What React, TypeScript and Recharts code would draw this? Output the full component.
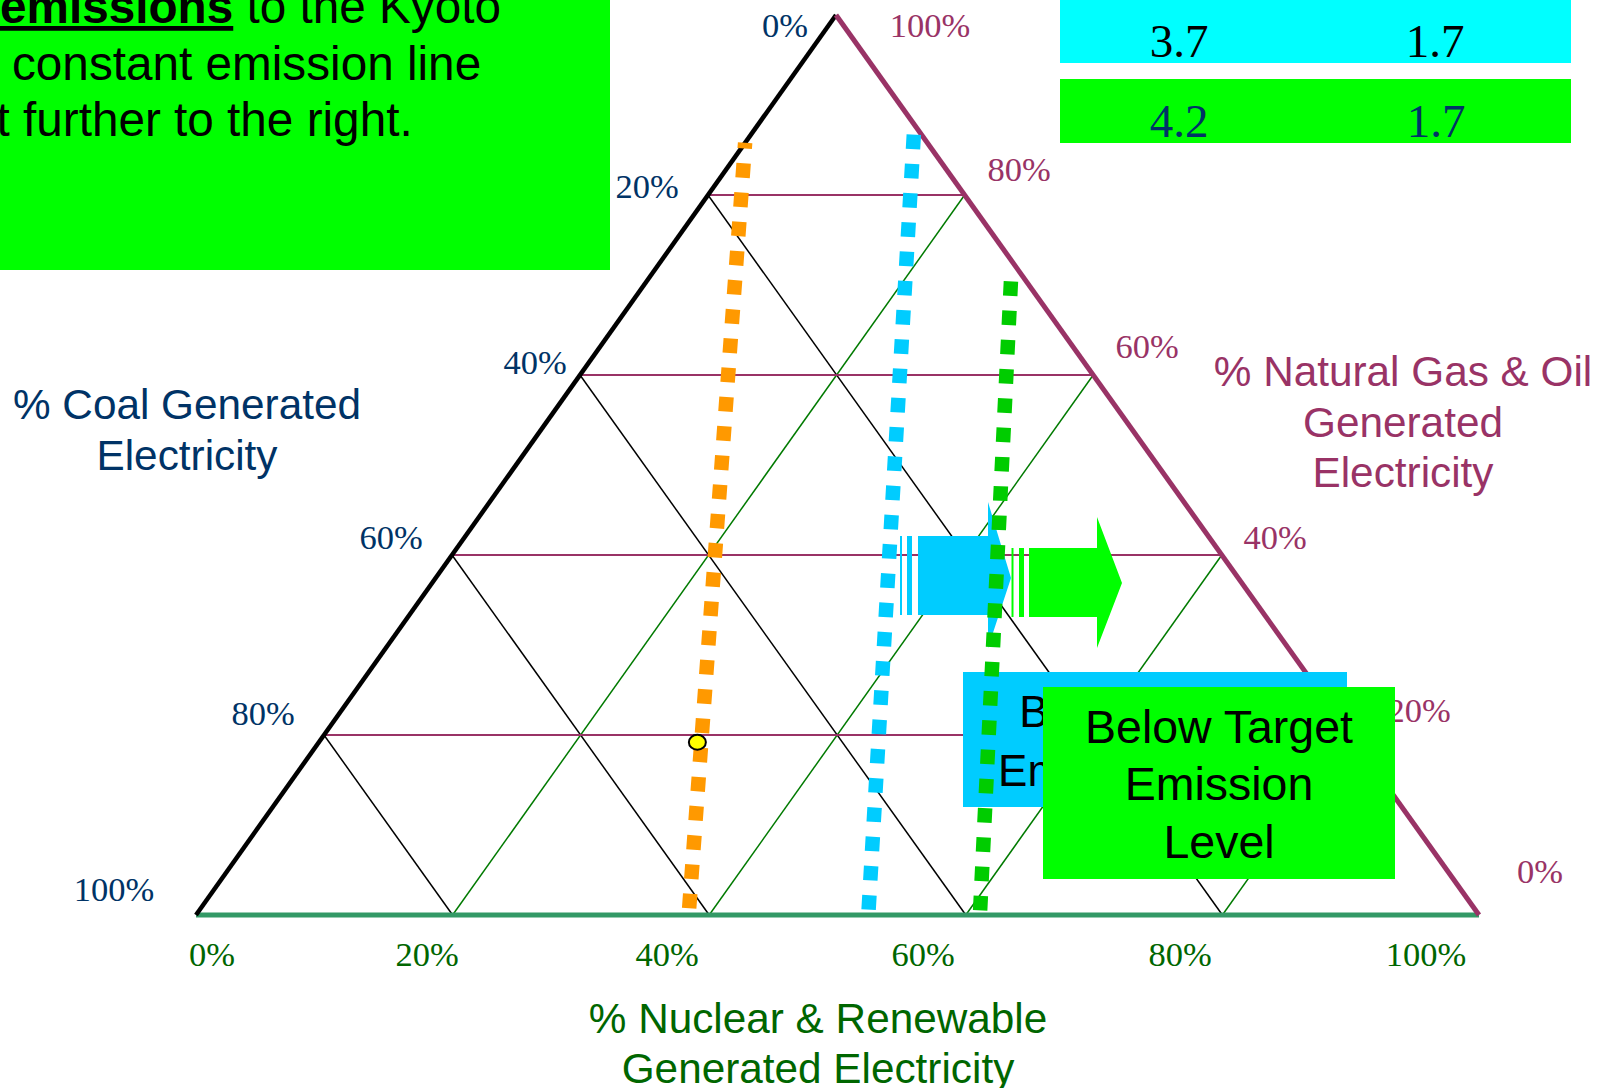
import React from 'react';
import { ComposedChart, Scatter, XAxis, YAxis } from 'recharts';

const WIDTH = 1598;
const HEIGHT = 1088;

// Tick labels along each side of the triangle
const coalTicks = ['0%', '20%', '40%', '60%', '80%', '100%'];
const gasTicks = ['100%', '80%', '60%', '40%', '20%', '0%'];
const nuclearTicks = ['0%', '20%', '40%', '60%', '80%', '100%'];

// Grid levels (%) drawn for each of the three shares
const gridLevels = [20, 40, 60, 80];

// Constant-emission lines, end points as [coal %, gas & oil %, nuclear & renewable %]
const emissionLineOrange = [[14.2, 85.8, 0], [61.6, 0, 38.4]];
const emissionLineBlue = [[0.6, 86.7, 12.7], [47.6, 0, 52.4]];
const emissionLineGreen = [[1.2, 70.4, 28.4], [38.9, 0, 61.1]];

// Current generation mix [coal, gas & oil, nuclear & renewable]
const currentMix = [51.3, 19.2, 29.5];

// Emission table values
const tableCyanRow = ['3.7', '1.7'];
const tableGreenRow = ['4.2', '1.7'];

// ---------- layout ----------
const ARIAL = '"Liberation Sans", Arial, Helvetica, sans-serif';
const TIMES = '"Liberation Serif", "Times New Roman", Times, serif';
const NAVY = '#003366';
const PLUM = '#993366';
const DKGREEN = '#006600';

// triangle corners: 100% gas (top), 100% coal (bottom left), 100% nuclear (bottom right)
const VERTEX = { gas: [836, 15], coal: [196, 915], nuclear: [1479, 915] };

const toXY = (m: number[]) => {
  const [c, g, n] = m;
  const s = c + g + n;
  return {
    x: (c * VERTEX.coal[0] + g * VERTEX.gas[0] + n * VERTEX.nuclear[0]) / s,
    y: (c * VERTEX.coal[1] + g * VERTEX.gas[1] + n * VERTEX.nuclear[1]) / s,
  };
};

const coalTickPos = [[785, 37], [647, 198], [535, 374], [391, 549], [263, 725], [114, 901]];
const gasTickPos = [[930, 37], [1019, 181], [1147, 358], [1275, 549], [1419, 722], [1540, 883]];
const nuclearTickPos = [[212, 966], [427, 966], [667, 966], [923, 966], [1180, 966], [1426, 966]];

const noDot = () => <g />;

const segment = (key: string, a: number[], b: number[], stroke: string, width: number, extra: any = {}) => (
  <Scatter
    key={key}
    data={[toXY(a), toXY(b)]}
    isAnimationActive={false}
    legendType="none"
    shape={noDot}
    line={{ stroke, strokeWidth: width, fill: 'none', ...extra }}
  />
);

const polygon = (key: string, pts: number[][], fill: string) => (
  <Scatter
    key={key}
    data={pts.map(([x, y]) => ({ x, y }))}
    isAnimationActive={false}
    legendType="none"
    shape={noDot}
    line={{ fill, stroke: 'none', strokeWidth: 0 }}
  />
);

const rect = (key: string, x1: number, y1: number, x2: number, y2: number, fill: string) =>
  polygon(key, [[x1, y1], [x2, y1], [x2, y2], [x1, y2]], fill);

const text = (
  key: string,
  x: number,
  y: number,
  content: React.ReactNode,
  font: string,
  size: number,
  color: string,
  anchor: 'start' | 'middle' | 'end' = 'middle',
) => (
  <Scatter
    key={key}
    data={[{ x, y }]}
    isAnimationActive={false}
    legendType="none"
    shape={(p: any) => (
      <text x={p.cx} y={p.cy} fontFamily={font} fontSize={size} fill={color} textAnchor={anchor}>
        {content}
      </text>
    )}
  />
);

export default function App() {
  const items: React.ReactNode[] = [];

  // explanatory note, top left
  items.push(rect('note-bg', 0, 0, 610, 270, '#00FF00'));
  items.push(
    text(
      'note-1',
      0,
      23,
      <>
        <tspan fontWeight="bold" textDecoration="underline">emissions</tspan>
        <tspan> to the Kyoto</tspan>
      </>,
      ARIAL,
      47.7,
      '#000',
      'start',
    ),
  );
  items.push(text('note-2', 12, 80, 'constant emission line', ARIAL, 47.7, '#000', 'start'));
  items.push(text('note-3', -3.5, 136, 't further to the right.', ARIAL, 47.7, '#000', 'start'));

  // emission table
  items.push(rect('tbl-cyan', 1060, 0, 1571, 63, '#00FFFF'));
  items.push(rect('tbl-green', 1060, 79, 1571, 143, '#00FF00'));
  tableCyanRow.forEach((v, i) => items.push(text(`tc${i}`, [1179, 1435][i], 57, v, TIMES, 47, '#000')));
  tableGreenRow.forEach((v, i) => items.push(text(`tg${i}`, [1179, 1436][i], 137, v, TIMES, 47, NAVY)));

  // grid: coal (black), nuclear (green), gas & oil (plum)
  gridLevels.forEach((L) => {
    items.push(segment(`gc${L}`, [L, 100 - L, 0], [L, 0, 100 - L], '#000000', 1.5));
  });
  gridLevels.forEach((L) => {
    items.push(segment(`gn${L}`, [100 - L, 0, L], [0, 100 - L, L], '#007A00', 1.5));
  });
  gridLevels.forEach((L) => {
    items.push(segment(`gg${L}`, [100 - L, L, 0], [0, L, 100 - L], PLUM, 2));
  });

  // triangle sides
  items.push(segment('side-bottom', [100, 0, 0], [0, 0, 100], '#339966', 5));
  items.push(segment('side-left', [0, 100, 0], [100, 0, 0], '#000000', 4.5));
  items.push(segment('side-right', [0, 100, 0], [0, 0, 100], PLUM, 5));

  // tick labels
  coalTicks.forEach((t, i) => items.push(text(`ct${i}`, coalTickPos[i][0], coalTickPos[i][1], t, TIMES, 34.5, NAVY)));
  gasTicks.forEach((t, i) => items.push(text(`gt${i}`, gasTickPos[i][0], gasTickPos[i][1], t, TIMES, 34.5, PLUM)));
  nuclearTicks.forEach((t, i) =>
    items.push(text(`nt${i}`, nuclearTickPos[i][0], nuclearTickPos[i][1], t, TIMES, 34.5, DKGREEN)),
  );

  // axis titles
  items.push(text('coal-t1', 187, 419, '% Coal Generated', ARIAL, 42.3, NAVY));
  items.push(text('coal-t2', 187, 470, 'Electricity', ARIAL, 42.3, NAVY));
  items.push(text('gas-t1', 1403, 386, '% Natural Gas & Oil', ARIAL, 42.3, PLUM));
  items.push(text('gas-t2', 1403, 437, 'Generated', ARIAL, 42.3, PLUM));
  items.push(text('gas-t3', 1403, 487, 'Electricity', ARIAL, 42.3, PLUM));
  items.push(text('nuc-t1', 818, 1033, '% Nuclear & Renewable', ARIAL, 42.3, DKGREEN));
  items.push(text('nuc-t2', 818, 1083, 'Generated Electricity', ARIAL, 42.3, DKGREEN));

  // first target box (behind)
  items.push(rect('box-blue', 963, 672, 1347, 807, '#00CCFF'));
  items.push(text('box-blue-1', 1146, 727, 'Below Target', ARIAL, 44, '#000'));
  items.push(text('box-blue-2', 1146, 786, 'Emission Level', ARIAL, 44, '#000'));

  // shift arrows
  items.push(rect('ab-s1', 900, 536, 902, 615, '#00CCFF'));
  items.push(rect('ab-s2', 907, 536, 912, 615, '#00CCFF'));
  items.push(
    polygon('ab', [[918, 536], [988, 536], [988, 502], [1011, 578], [988, 648], [988, 615], [918, 615]], '#00CCFF'),
  );
  items.push(rect('ag-s1', 1011.5, 548, 1013.5, 617, '#00FF00'));
  items.push(rect('ag-s2', 1019, 548, 1024, 617, '#00FF00'));
  items.push(
    polygon('ag', [[1029, 548], [1097, 548], [1097, 517], [1122, 583], [1097, 648], [1097, 617], [1029, 617]], '#00FF00'),
  );

  // constant-emission lines (square dotted)
  const dots = { strokeDasharray: '14.5 14.8', strokeLinecap: 'butt' };
  items.push(segment('el-orange', emissionLineOrange[0], emissionLineOrange[1], '#FF9900', 14.5, { ...dots, strokeDashoffset: 8.8 }));
  items.push(segment('el-blue', emissionLineBlue[0], emissionLineBlue[1], '#00CCFF', 14.5, dots));
  items.push(segment('el-green', emissionLineGreen[0], emissionLineGreen[1], '#00CC00', 14.5, dots));

  // current mix
  items.push(
    <Scatter
      key="mix"
      data={[toXY(currentMix)]}
      isAnimationActive={false}
      legendType="none"
      shape={(p: any) => <ellipse cx={p.cx} cy={p.cy} rx={8.5} ry={7.5} fill="#FFFF00" stroke="#000" strokeWidth={2} />}
    />,
  );

  // second target box (front)
  items.push(rect('box-green', 1043, 687, 1395, 879, '#00FF00'));
  items.push(text('box-green-1', 1219, 743, 'Below Target', ARIAL, 46.5, '#000'));
  items.push(text('box-green-2', 1219, 800, 'Emission', ARIAL, 46.5, '#000'));
  items.push(text('box-green-3', 1219, 858, 'Level', ARIAL, 46.5, '#000'));

  return (
    <div style={{ position: 'absolute', left: 0, top: 0, width: WIDTH, height: HEIGHT, background: '#ffffff' }}>
      <ComposedChart width={WIDTH} height={HEIGHT} margin={{ top: 0, right: 0, bottom: 0, left: 0 }}>
        <XAxis type="number" dataKey="x" domain={[0, WIDTH]} allowDataOverflow hide />
        <YAxis type="number" dataKey="y" domain={[0, HEIGHT]} allowDataOverflow reversed hide />
        {items}
      </ComposedChart>
    </div>
  );
}
